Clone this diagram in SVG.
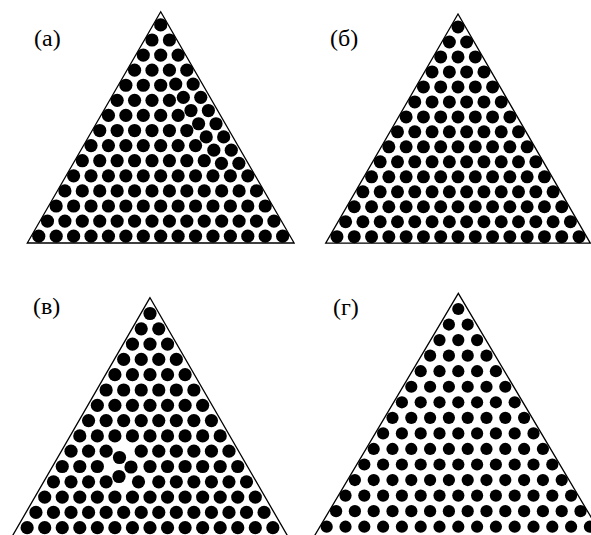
<svg xmlns="http://www.w3.org/2000/svg" xmlns:xlink="http://www.w3.org/1999/xlink" width="591" height="535" viewBox="0 0 591 535">
<style>
.tri{fill:none;stroke:#000;stroke-width:1.3;stroke-linejoin:miter}
.lbl{font-family:"Liberation Serif","Times New Roman",serif;font-size:24px;fill:#000}
.dots{fill:#000}
</style>
<defs>
<circle id="ca" r="6.6"/>
<circle id="cb" r="6.5"/>
<circle id="cv" r="6.6"/>
<circle id="cg" r="6.1"/>
</defs>
<rect width="591" height="535" fill="#fff"/>

<g id="panel-a">
<polygon class="tri" points="160.7,11.7 27.3,243 294.1,243"/>
<text class="lbl" x="34" y="46">(а)</text>
<g class="dots">
<g transform="translate(160.7,24.9)"><use href="#ca"/></g>
<g transform="translate(151.99,39.99)"><use href="#ca"/><use href="#ca" x="17.42"/></g>
<g transform="translate(143.28,55.08)"><use href="#ca"/><use href="#ca" x="17.42"/><use href="#ca" x="34.84"/></g>
<g transform="translate(134.57,70.17)"><use href="#ca"/><use href="#ca" x="17.42"/><use href="#ca" x="34.84"/><use href="#ca" x="52.26"/></g>
<g transform="translate(125.86,85.26)"><use href="#ca"/><use href="#ca" x="17.42"/><use href="#ca" x="34.84"/></g>
<g transform="translate(117.15,100.35)"><use href="#ca"/><use href="#ca" x="17.42"/><use href="#ca" x="34.84"/><use href="#ca" x="52.26"/></g>
<g transform="translate(108.44,115.44)"><use href="#ca"/><use href="#ca" x="17.42"/><use href="#ca" x="34.84"/><use href="#ca" x="52.26"/><use href="#ca" x="69.68"/></g>
<g transform="translate(99.73,130.53)"><use href="#ca"/><use href="#ca" x="17.42"/><use href="#ca" x="34.84"/><use href="#ca" x="52.26"/><use href="#ca" x="69.68"/><use href="#ca" x="87.1"/></g>
<g transform="translate(91.02,145.62)"><use href="#ca"/><use href="#ca" x="17.42"/><use href="#ca" x="34.84"/><use href="#ca" x="52.26"/><use href="#ca" x="69.68"/><use href="#ca" x="87.1"/><use href="#ca" x="104.52"/></g>
<g transform="translate(82.31,160.71)"><use href="#ca"/><use href="#ca" x="17.42"/><use href="#ca" x="34.84"/><use href="#ca" x="52.26"/><use href="#ca" x="69.68"/><use href="#ca" x="87.1"/><use href="#ca" x="104.52"/><use href="#ca" x="121.94"/></g>
<g transform="translate(73.6,175.8)"><use href="#ca"/><use href="#ca" x="17.42"/><use href="#ca" x="34.84"/><use href="#ca" x="52.26"/><use href="#ca" x="69.68"/><use href="#ca" x="87.1"/><use href="#ca" x="104.52"/><use href="#ca" x="121.94"/><use href="#ca" x="139.36"/><use href="#ca" x="156.78"/><use href="#ca" x="174.2"/></g>
<g transform="translate(64.89,190.89)"><use href="#ca"/><use href="#ca" x="17.42"/><use href="#ca" x="34.84"/><use href="#ca" x="52.26"/><use href="#ca" x="69.68"/><use href="#ca" x="87.1"/><use href="#ca" x="104.52"/><use href="#ca" x="121.94"/><use href="#ca" x="139.36"/><use href="#ca" x="156.78"/><use href="#ca" x="174.2"/><use href="#ca" x="191.62"/></g>
<g transform="translate(56.18,205.98)"><use href="#ca"/><use href="#ca" x="17.42"/><use href="#ca" x="34.84"/><use href="#ca" x="52.26"/><use href="#ca" x="69.68"/><use href="#ca" x="87.1"/><use href="#ca" x="104.52"/><use href="#ca" x="121.94"/><use href="#ca" x="139.36"/><use href="#ca" x="156.78"/><use href="#ca" x="174.2"/><use href="#ca" x="191.62"/><use href="#ca" x="209.04"/></g>
<g transform="translate(47.47,221.07)"><use href="#ca"/><use href="#ca" x="17.42"/><use href="#ca" x="34.84"/><use href="#ca" x="52.26"/><use href="#ca" x="69.68"/><use href="#ca" x="87.1"/><use href="#ca" x="104.52"/><use href="#ca" x="121.94"/><use href="#ca" x="139.36"/><use href="#ca" x="156.78"/><use href="#ca" x="174.2"/><use href="#ca" x="191.62"/><use href="#ca" x="209.04"/><use href="#ca" x="226.46"/></g>
<g transform="translate(38.76,236.16)"><use href="#ca"/><use href="#ca" x="17.42"/><use href="#ca" x="34.84"/><use href="#ca" x="52.26"/><use href="#ca" x="69.68"/><use href="#ca" x="87.1"/><use href="#ca" x="104.52"/><use href="#ca" x="121.94"/><use href="#ca" x="139.36"/><use href="#ca" x="156.78"/><use href="#ca" x="174.2"/><use href="#ca" x="191.62"/><use href="#ca" x="209.04"/><use href="#ca" x="226.46"/><use href="#ca" x="243.88"/></g>
<g id="a-strand">
<use href="#ca" x="175.73" y="84.12"/><use href="#ca" x="193.15" y="84.12"/>
<use href="#ca" x="183.35" y="97.33"/><use href="#ca" x="200.77" y="97.33"/>
<use href="#ca" x="190.97" y="110.53"/><use href="#ca" x="208.39" y="110.53"/>
<use href="#ca" x="198.6" y="123.74"/><use href="#ca" x="216.02" y="123.74"/>
<use href="#ca" x="206.22" y="136.94"/><use href="#ca" x="223.64" y="136.94"/>
<use href="#ca" x="213.84" y="150.14"/><use href="#ca" x="231.26" y="150.14"/>
<use href="#ca" x="221.46" y="163.35"/><use href="#ca" x="238.88" y="163.35"/>
</g>
</g>
</g>

<g id="panel-b">
<polygon class="tri" points="458,14 325.7,243.2 590.3,243.2"/>
<text class="lbl" x="330" y="46">(б)</text>
<g class="dots">
<g transform="translate(458,27)"><use href="#cb"/></g>
<g transform="translate(449.355,41.98)"><use href="#cb"/><use href="#cb" x="17.29"/></g>
<g transform="translate(440.71,56.96)"><use href="#cb"/><use href="#cb" x="17.29"/><use href="#cb" x="34.58"/></g>
<g transform="translate(432.065,71.94)"><use href="#cb"/><use href="#cb" x="17.29"/><use href="#cb" x="34.58"/><use href="#cb" x="51.87"/></g>
<g transform="translate(423.42,86.92)"><use href="#cb"/><use href="#cb" x="17.29"/><use href="#cb" x="34.58"/><use href="#cb" x="51.87"/><use href="#cb" x="69.16"/></g>
<g transform="translate(414.775,101.9)"><use href="#cb"/><use href="#cb" x="17.29"/><use href="#cb" x="34.58"/><use href="#cb" x="51.87"/><use href="#cb" x="69.16"/><use href="#cb" x="86.45"/></g>
<g transform="translate(406.13,116.88)"><use href="#cb"/><use href="#cb" x="17.29"/><use href="#cb" x="34.58"/><use href="#cb" x="51.87"/><use href="#cb" x="69.16"/><use href="#cb" x="86.45"/><use href="#cb" x="103.74"/></g>
<g transform="translate(397.485,131.86)"><use href="#cb"/><use href="#cb" x="17.29"/><use href="#cb" x="34.58"/><use href="#cb" x="51.87"/><use href="#cb" x="69.16"/><use href="#cb" x="86.45"/><use href="#cb" x="103.74"/><use href="#cb" x="121.03"/></g>
<g transform="translate(388.84,146.84)"><use href="#cb"/><use href="#cb" x="17.29"/><use href="#cb" x="34.58"/><use href="#cb" x="51.87"/><use href="#cb" x="69.16"/><use href="#cb" x="86.45"/><use href="#cb" x="103.74"/><use href="#cb" x="121.03"/><use href="#cb" x="138.32"/></g>
<g transform="translate(380.195,161.82)"><use href="#cb"/><use href="#cb" x="17.29"/><use href="#cb" x="34.58"/><use href="#cb" x="51.87"/><use href="#cb" x="69.16"/><use href="#cb" x="86.45"/><use href="#cb" x="103.74"/><use href="#cb" x="121.03"/><use href="#cb" x="138.32"/><use href="#cb" x="155.61"/></g>
<g transform="translate(371.55,176.8)"><use href="#cb"/><use href="#cb" x="17.29"/><use href="#cb" x="34.58"/><use href="#cb" x="51.87"/><use href="#cb" x="69.16"/><use href="#cb" x="86.45"/><use href="#cb" x="103.74"/><use href="#cb" x="121.03"/><use href="#cb" x="138.32"/><use href="#cb" x="155.61"/><use href="#cb" x="172.9"/></g>
<g transform="translate(362.905,191.78)"><use href="#cb"/><use href="#cb" x="17.29"/><use href="#cb" x="34.58"/><use href="#cb" x="51.87"/><use href="#cb" x="69.16"/><use href="#cb" x="86.45"/><use href="#cb" x="103.74"/><use href="#cb" x="121.03"/><use href="#cb" x="138.32"/><use href="#cb" x="155.61"/><use href="#cb" x="172.9"/><use href="#cb" x="190.19"/></g>
<g transform="translate(354.26,206.76)"><use href="#cb"/><use href="#cb" x="17.29"/><use href="#cb" x="34.58"/><use href="#cb" x="51.87"/><use href="#cb" x="69.16"/><use href="#cb" x="86.45"/><use href="#cb" x="103.74"/><use href="#cb" x="121.03"/><use href="#cb" x="138.32"/><use href="#cb" x="155.61"/><use href="#cb" x="172.9"/><use href="#cb" x="190.19"/><use href="#cb" x="207.48"/></g>
<g transform="translate(345.615,221.74)"><use href="#cb"/><use href="#cb" x="17.29"/><use href="#cb" x="34.58"/><use href="#cb" x="51.87"/><use href="#cb" x="69.16"/><use href="#cb" x="86.45"/><use href="#cb" x="103.74"/><use href="#cb" x="121.03"/><use href="#cb" x="138.32"/><use href="#cb" x="155.61"/><use href="#cb" x="172.9"/><use href="#cb" x="190.19"/><use href="#cb" x="207.48"/><use href="#cb" x="224.77"/></g>
<g transform="translate(336.97,236.72)"><use href="#cb"/><use href="#cb" x="17.29"/><use href="#cb" x="34.58"/><use href="#cb" x="51.87"/><use href="#cb" x="69.16"/><use href="#cb" x="86.45"/><use href="#cb" x="103.74"/><use href="#cb" x="121.03"/><use href="#cb" x="138.32"/><use href="#cb" x="155.61"/><use href="#cb" x="172.9"/><use href="#cb" x="190.19"/><use href="#cb" x="207.48"/><use href="#cb" x="224.77"/><use href="#cb" x="242.06"/></g>
</g>
</g>

<g id="panel-v">
<polygon class="tri" points="150,297.7 11.8,537 288.2,537"/>
<text class="lbl" x="33" y="314">(в)</text>
<g class="dots">
<g transform="translate(150,313.5)"><use href="#cv"/></g>
<g transform="translate(141.225,328.8)"><use href="#cv"/><use href="#cv" x="17.55"/></g>
<g transform="translate(132.45,344.1)"><use href="#cv"/><use href="#cv" x="17.55"/><use href="#cv" x="35.1"/></g>
<g transform="translate(123.675,359.4)"><use href="#cv"/><use href="#cv" x="17.55"/><use href="#cv" x="35.1"/><use href="#cv" x="52.65"/></g>
<g transform="translate(114.9,374.7)"><use href="#cv"/><use href="#cv" x="17.55"/><use href="#cv" x="35.1"/><use href="#cv" x="52.65"/><use href="#cv" x="70.2"/></g>
<g transform="translate(106.125,390)"><use href="#cv"/><use href="#cv" x="17.55"/><use href="#cv" x="35.1"/><use href="#cv" x="52.65"/><use href="#cv" x="70.2"/><use href="#cv" x="87.75"/></g>
<g transform="translate(97.35,405.3)"><use href="#cv"/><use href="#cv" x="17.55"/><use href="#cv" x="35.1"/><use href="#cv" x="52.65"/><use href="#cv" x="70.2"/><use href="#cv" x="87.75"/><use href="#cv" x="105.3"/></g>
<g transform="translate(88.575,420.6)"><use href="#cv"/><use href="#cv" x="17.55"/><use href="#cv" x="35.1"/><use href="#cv" x="52.65"/><use href="#cv" x="70.2"/><use href="#cv" x="87.75"/><use href="#cv" x="105.3"/><use href="#cv" x="122.85"/></g>
<g transform="translate(79.8,435.9)"><use href="#cv"/><use href="#cv" x="17.55"/><use href="#cv" x="35.1"/><use href="#cv" x="52.65"/><use href="#cv" x="70.2"/><use href="#cv" x="87.75"/><use href="#cv" x="105.3"/><use href="#cv" x="122.85"/><use href="#cv" x="140.4"/></g>
<g transform="translate(71.025,451.2)"><use href="#cv"/><use href="#cv" x="17.55"/><use href="#cv" x="35.1"/><use href="#cv" x="70.2"/><use href="#cv" x="87.75"/><use href="#cv" x="105.3"/><use href="#cv" x="122.85"/><use href="#cv" x="140.4"/><use href="#cv" x="157.95"/></g>
<g transform="translate(62.25,466.5)"><use href="#cv"/><use href="#cv" x="17.55"/><use href="#cv" x="35.1"/><use href="#cv" x="87.75"/><use href="#cv" x="105.3"/><use href="#cv" x="122.85"/><use href="#cv" x="140.4"/><use href="#cv" x="157.95"/><use href="#cv" x="175.5"/></g>
<g transform="translate(53.475,481.8)"><use href="#cv"/><use href="#cv" x="17.55"/><use href="#cv" x="35.1"/><use href="#cv" x="52.65"/><use href="#cv" x="105.3"/><use href="#cv" x="122.85"/><use href="#cv" x="140.4"/><use href="#cv" x="157.95"/><use href="#cv" x="175.5"/><use href="#cv" x="193.05"/></g>
<g id="v-defect">
<use href="#cv" x="119.5" y="457.5"/>
<use href="#cv" x="131" y="467"/>
<use href="#cv" x="119" y="476.5"/>
<use href="#cv" x="138.5" y="481.8"/>
</g>
<g transform="translate(44.7,497.1)"><use href="#cv"/><use href="#cv" x="17.55"/><use href="#cv" x="35.1"/><use href="#cv" x="52.65"/><use href="#cv" x="70.2"/><use href="#cv" x="87.75"/><use href="#cv" x="105.3"/><use href="#cv" x="122.85"/><use href="#cv" x="140.4"/><use href="#cv" x="157.95"/><use href="#cv" x="175.5"/><use href="#cv" x="193.05"/><use href="#cv" x="210.6"/></g>
<g transform="translate(35.925,512.4)"><use href="#cv"/><use href="#cv" x="17.55"/><use href="#cv" x="35.1"/><use href="#cv" x="52.65"/><use href="#cv" x="70.2"/><use href="#cv" x="87.75"/><use href="#cv" x="105.3"/><use href="#cv" x="122.85"/><use href="#cv" x="140.4"/><use href="#cv" x="157.95"/><use href="#cv" x="175.5"/><use href="#cv" x="193.05"/><use href="#cv" x="210.6"/><use href="#cv" x="228.15"/></g>
<g transform="translate(27.15,527.7)"><use href="#cv"/><use href="#cv" x="17.55"/><use href="#cv" x="35.1"/><use href="#cv" x="52.65"/><use href="#cv" x="70.2"/><use href="#cv" x="87.75"/><use href="#cv" x="105.3"/><use href="#cv" x="122.85"/><use href="#cv" x="140.4"/><use href="#cv" x="157.95"/><use href="#cv" x="175.5"/><use href="#cv" x="193.05"/><use href="#cv" x="210.6"/><use href="#cv" x="228.15"/><use href="#cv" x="245.7"/></g>
</g>
</g>

<g id="panel-g">
<polygon class="tri" points="458.3,293.3 313.8,537 602.8,537"/>
<text class="lbl" x="333" y="315">(г)</text>
<g class="dots">
<g transform="translate(458.3,309)"><use href="#cg"/></g>
<g transform="translate(448.9,324.55)"><use href="#cg"/><use href="#cg" x="18.8"/></g>
<g transform="translate(439.5,340.1)"><use href="#cg"/><use href="#cg" x="18.8"/><use href="#cg" x="37.6"/></g>
<g transform="translate(430.1,355.65)"><use href="#cg"/><use href="#cg" x="18.8"/><use href="#cg" x="37.6"/><use href="#cg" x="56.4"/></g>
<g transform="translate(420.7,371.2)"><use href="#cg"/><use href="#cg" x="18.8"/><use href="#cg" x="37.6"/><use href="#cg" x="56.4"/><use href="#cg" x="75.2"/></g>
<g transform="translate(411.3,386.75)"><use href="#cg"/><use href="#cg" x="18.8"/><use href="#cg" x="37.6"/><use href="#cg" x="56.4"/><use href="#cg" x="75.2"/><use href="#cg" x="94"/></g>
<g transform="translate(401.9,402.3)"><use href="#cg"/><use href="#cg" x="18.8"/><use href="#cg" x="37.6"/><use href="#cg" x="56.4"/><use href="#cg" x="75.2"/><use href="#cg" x="94"/><use href="#cg" x="112.8"/></g>
<g transform="translate(392.5,417.85)"><use href="#cg"/><use href="#cg" x="18.8"/><use href="#cg" x="37.6"/><use href="#cg" x="56.4"/><use href="#cg" x="75.2"/><use href="#cg" x="94"/><use href="#cg" x="112.8"/><use href="#cg" x="131.6"/></g>
<g transform="translate(383.1,433.4)"><use href="#cg"/><use href="#cg" x="18.8"/><use href="#cg" x="37.6"/><use href="#cg" x="56.4"/><use href="#cg" x="75.2"/><use href="#cg" x="94"/><use href="#cg" x="112.8"/><use href="#cg" x="131.6"/><use href="#cg" x="150.4"/></g>
<g transform="translate(373.7,448.95)"><use href="#cg"/><use href="#cg" x="18.8"/><use href="#cg" x="37.6"/><use href="#cg" x="56.4"/><use href="#cg" x="75.2"/><use href="#cg" x="94"/><use href="#cg" x="112.8"/><use href="#cg" x="131.6"/><use href="#cg" x="150.4"/><use href="#cg" x="169.2"/></g>
<g transform="translate(364.3,464.5)"><use href="#cg"/><use href="#cg" x="18.8"/><use href="#cg" x="37.6"/><use href="#cg" x="56.4"/><use href="#cg" x="75.2"/><use href="#cg" x="94"/><use href="#cg" x="112.8"/><use href="#cg" x="131.6"/><use href="#cg" x="150.4"/><use href="#cg" x="169.2"/><use href="#cg" x="188"/></g>
<g transform="translate(354.9,480.05)"><use href="#cg"/><use href="#cg" x="18.8"/><use href="#cg" x="37.6"/><use href="#cg" x="56.4"/><use href="#cg" x="75.2"/><use href="#cg" x="94"/><use href="#cg" x="112.8"/><use href="#cg" x="131.6"/><use href="#cg" x="150.4"/><use href="#cg" x="169.2"/><use href="#cg" x="188"/><use href="#cg" x="206.8"/></g>
<g transform="translate(345.5,495.6)"><use href="#cg"/><use href="#cg" x="18.8"/><use href="#cg" x="37.6"/><use href="#cg" x="56.4"/><use href="#cg" x="75.2"/><use href="#cg" x="94"/><use href="#cg" x="112.8"/><use href="#cg" x="131.6"/><use href="#cg" x="150.4"/><use href="#cg" x="169.2"/><use href="#cg" x="188"/><use href="#cg" x="206.8"/><use href="#cg" x="225.6"/></g>
<g transform="translate(336.1,511.15)"><use href="#cg"/><use href="#cg" x="18.8"/><use href="#cg" x="37.6"/><use href="#cg" x="56.4"/><use href="#cg" x="75.2"/><use href="#cg" x="94"/><use href="#cg" x="112.8"/><use href="#cg" x="131.6"/><use href="#cg" x="150.4"/><use href="#cg" x="169.2"/><use href="#cg" x="188"/><use href="#cg" x="206.8"/><use href="#cg" x="225.6"/><use href="#cg" x="244.4"/></g>
<g transform="translate(326.7,526.7)"><use href="#cg"/><use href="#cg" x="18.8"/><use href="#cg" x="37.6"/><use href="#cg" x="56.4"/><use href="#cg" x="75.2"/><use href="#cg" x="94"/><use href="#cg" x="112.8"/><use href="#cg" x="131.6"/><use href="#cg" x="150.4"/><use href="#cg" x="169.2"/><use href="#cg" x="188"/><use href="#cg" x="206.8"/><use href="#cg" x="225.6"/><use href="#cg" x="244.4"/><use href="#cg" x="263.2"/></g>
</g>
</g>
</svg>
